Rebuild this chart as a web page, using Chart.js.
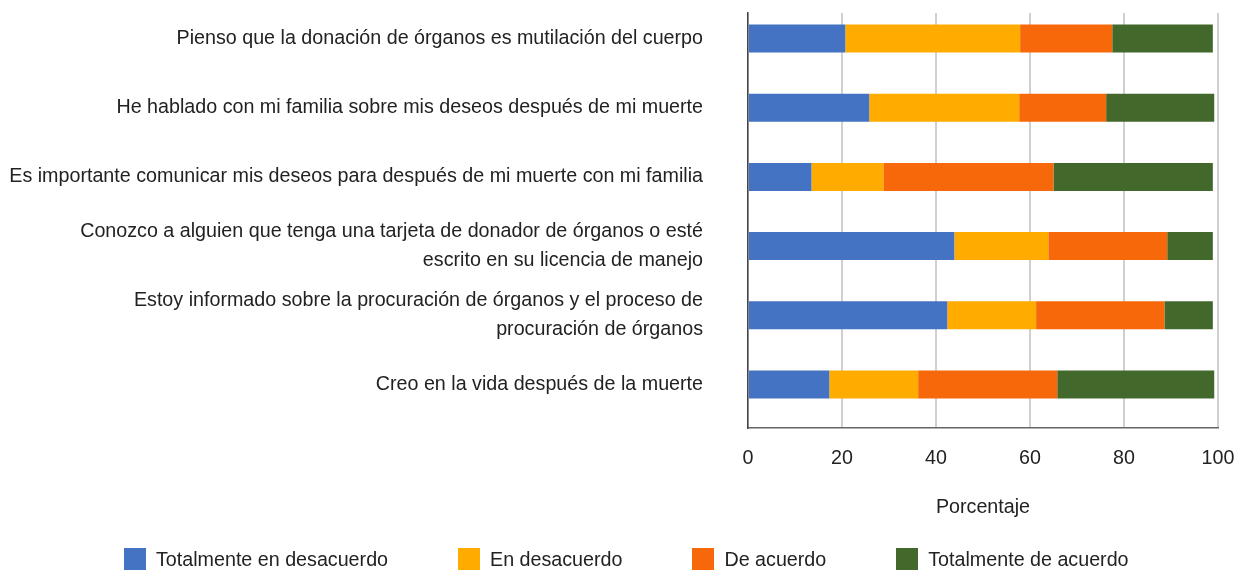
<!DOCTYPE html>
<html>
<head>
<meta charset="utf-8">
<script src="https://cdn.jsdelivr.net/npm/chart.js@4/dist/chart.umd.min.js"></script>
<style>
  html, body { margin: 0; padding: 0; background: #fff; overflow: hidden; }
  #wrap { position: relative; width: 1236px; height: 570px; }
  #legend {
    position: absolute; left: 124px; top: 548px;
    display: flex; gap: 70px;
    font-family: "Liberation Sans", Arial, sans-serif;
    font-size: 19.7px; color: #222; line-height: 22px;
  }
  #legend .item { display: flex; align-items: center; white-space: nowrap; }
  #legend .box { width: 22px; height: 22px; margin-right: 10px; }
</style>
</head>
<body>
<div id="wrap">
  <canvas id="chart" width="1236" height="570"></canvas>
  <div id="legend"></div>
</div>
<script>
// preguntas (eje Y)
const categories = [
  'Pienso que la donación de órganos es mutilación del cuerpo',
  'He hablado con mi familia sobre mis deseos después de mi muerte',
  'Es importante comunicar mis deseos para después de mi muerte con mi familia',
  ['Conozco a alguien que tenga una tarjeta de donador de órganos o esté', 'escrito en su licencia de manejo'],
  ['Estoy informado sobre la procuración de órganos y el proceso de', 'procuración de órganos'],
  'Creo en la vida después de la muerte'
];

const seriesNames = ['Totalmente en desacuerdo', 'En desacuerdo', 'De acuerdo', 'Totalmente de acuerdo'];
const seriesColors = ['#4473c4', '#ffab00', '#f7680b', '#43682c'];

// porcentajes
const totDesacuerdo = [20.7, 25.8, 13.5, 43.9, 42.4, 17.3];
const enDesacuerdo  = [37.2, 31.9, 15.3, 20.0, 18.9, 18.9];
const deAcuerdo     = [19.6, 18.5, 36.2, 25.3, 27.3, 29.6];
const totAcuerdo    = [21.4, 23.0, 33.9,  9.7, 10.3, 33.4];

const xTicks = [0, 20, 40, 60, 80, 100];

const FONT = '"Liberation Sans", Arial, sans-serif';
const SIZE = 19.7;
const values = [totDesacuerdo, enDesacuerdo, deAcuerdo, totAcuerdo];

// la primera barra queda más cerca del borde superior que la última del inferior
const shiftCategories = {
  id: 'shiftCategories',
  afterLayout(chart) {
    const y = chart.scales.y;
    y._startValue = -0.37;
    y._valueRange = 6;
  }
};

new Chart(document.getElementById('chart'), {
  type: 'bar',
  data: {
    labels: categories,
    datasets: seriesNames.map((name, i) => ({
      label: name,
      data: values[i],
      backgroundColor: seriesColors[i],
      borderWidth: 0,
      categoryPercentage: 0.405,
      barPercentage: 1
    }))
  },
  options: {
    indexAxis: 'y',
    responsive: false,
    animation: false,
    layout: { padding: { top: 13, right: 18, bottom: 0, left: 0 } },
    plugins: {
      legend: { display: false },
      tooltip: { enabled: false }
    },
    scales: {
      x: {
        stacked: true,
        min: 0,
        max: 100,
        afterFit: s => { s.height = 142; s.paddingLeft = 0; s.paddingRight = 0; },
        afterBuildTicks: s => { s.ticks = xTicks.map(v => ({ value: v })); },
        grid: { color: '#d0d0d0', lineWidth: 2, drawTicks: false },
        border: { display: true, color: '#666', width: 1.5 },
        ticks: { color: '#222', padding: 19, font: { family: FONT, size: SIZE } },
        title: {
          display: true,
          text: 'Porcentaje',
          color: '#222',
          font: { family: FONT, size: SIZE },
          padding: { top: 0, bottom: 51 }
        }
      },
      y: {
        stacked: true,
        afterFit: s => { s.width = 748; s.paddingTop = 0; s.paddingBottom = 0; },
        grid: { display: false },
        border: { display: true, color: '#444', width: 1.5 },
        ticks: {
          color: '#222',
          padding: 37,
          font: { family: FONT, size: SIZE, lineHeight: 1.47 }
        }
      }
    }
  },
  plugins: [shiftCategories]
});

const legend = document.getElementById('legend');
seriesNames.forEach((name, i) => {
  const item = document.createElement('div');
  item.className = 'item';
  item.innerHTML = `<span class="box" style="background:${seriesColors[i]}"></span><span>${name}</span>`;
  legend.appendChild(item);
});
</script>
</body>
</html>
